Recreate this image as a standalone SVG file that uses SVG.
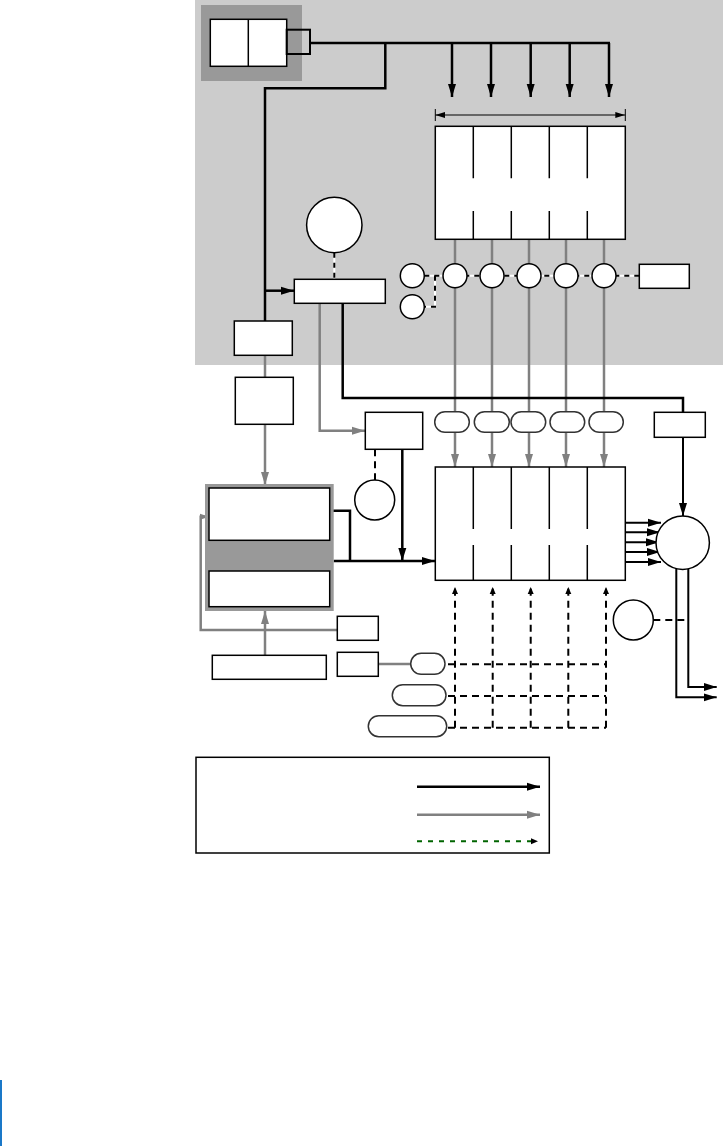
<svg xmlns="http://www.w3.org/2000/svg" width="723" height="1146" viewBox="0 0 723 1146">
<style>
.n{fill:#fff;stroke:#000;stroke-width:1.5}
.k{fill:none;stroke:#000;stroke-width:2.5}
.kt{fill:none;stroke:#000;stroke-width:2}
.g{fill:none;stroke:#808080;stroke-width:2.5}
.w{fill:none;stroke:#fff;stroke-width:2}
.d{fill:none;stroke:#000;stroke-width:2;stroke-dasharray:5,5}
.dg{fill:none;stroke:#000;stroke-width:2;stroke-dasharray:7,5}
.dv{stroke:#000;stroke-width:1.5}
.p{fill:#fff;stroke:#333;stroke-width:1.5}
</style>
<defs>
<marker id="ak" markerUnits="userSpaceOnUse" markerWidth="14" markerHeight="10" refX="13" refY="5" orient="auto"><path d="M0,1 L13,5 L0,9 z" fill="#000"/></marker>
<marker id="ag" markerUnits="userSpaceOnUse" markerWidth="14" markerHeight="10" refX="13" refY="5" orient="auto"><path d="M0,1 L13,5 L0,9 z" fill="#808080"/></marker>
<marker id="as" markerUnits="userSpaceOnUse" markerWidth="10" markerHeight="8" refX="10" refY="4" orient="auto-start-reverse"><path d="M0,1 L10,4 L0,7 z" fill="#000"/></marker>
<marker id="ad" markerUnits="userSpaceOnUse" markerWidth="8" markerHeight="8" refX="7" refY="4" orient="auto"><path d="M0,1 L7,4 L0,7 z" fill="#000"/></marker>
<marker id="ags" markerUnits="userSpaceOnUse" markerWidth="10" markerHeight="8" refX="9" refY="4" orient="auto"><path d="M0,1 L9,4 L0,7 z" fill="#808080"/></marker>
</defs>
<rect x="195" y="0" width="528" height="365" fill="#cccccc"/>
<rect x="0" y="1080" width="2" height="66" fill="#1a78c8"/>

<g id="connectors">
<path class="k" d="M310,43 H610"/>
<path class="k" d="M385.3,43 V88.3 H265 V321"/>
<path class="k" d="M265,290.7 H294" marker-end="url(#ak)"/>
<path class="k" d="M452,43 V97" marker-end="url(#ak)"/>
<path class="k" d="M491,43 V97" marker-end="url(#ak)"/>
<path class="k" d="M530.7,43 V97" marker-end="url(#ak)"/>
<path class="k" d="M569.7,43 V97" marker-end="url(#ak)"/>
<path class="k" d="M609,43 V97" marker-end="url(#ak)"/>
<path fill="none" stroke="#000" stroke-width="1" d="M435.3,115 H625.3" marker-start="url(#as)" marker-end="url(#as)"/>
<path fill="none" stroke="#000" stroke-width="1" d="M435.3,109 V121 M625.3,109 V121"/>
<path class="g" d="M455,239.3 V467" marker-end="url(#ag)"/>
<path class="g" d="M492,239.3 V467" marker-end="url(#ag)"/>
<path class="g" d="M529,239.3 V467" marker-end="url(#ag)"/>
<path class="g" d="M566,239.3 V467" marker-end="url(#ag)"/>
<path class="g" d="M604,239.3 V467" marker-end="url(#ag)"/>
<path class="w" d="M424.3,275.7 H639.3 M435,275.7 V306.7 H424.3"/>
<path class="d" d="M424.3,275.7 H639.3 M435,275.7 V306.7 H424.3"/>
<path class="w" d="M334.3,252.7 V279.3"/>
<path class="d" d="M334.3,252.7 V279.3"/>
<path class="g" d="M319.7,303.3 V430.7 H365" marker-end="url(#ag)"/>
<path class="k" d="M342.7,303.3 V398 H683 V412.3"/>
<path class="kt" d="M683,437.3 V516" marker-end="url(#ak)"/>
<path class="g" d="M265,355.3 V377.3"/>
<path class="g" d="M265,424.3 V485" marker-end="url(#ag)"/>
<path class="dg" d="M375,449.3 V480"/>
<path class="k" d="M402.3,449.3 V561" marker-end="url(#ak)"/>
<path class="k" d="M329.7,510.7 H350 V561"/>
<path class="k" d="M333.7,561 H435" marker-end="url(#ak)"/>
<path class="g" d="M337.3,630 H200.7 V516.7 H209" marker-end="url(#ags)"/>
<path class="g" d="M265,655.3 V611" marker-end="url(#ag)"/>
<path class="g" d="M378.3,664 H410.7"/>
<path class="kt" d="M625.3,522.7 H661" marker-end="url(#ak)"/>
<path class="kt" d="M625.3,532.3 H660" marker-end="url(#ak)"/>
<path class="kt" d="M625.3,542.3 H659" marker-end="url(#ak)"/>
<path class="kt" d="M625.3,552 H660" marker-end="url(#ak)"/>
<path class="kt" d="M625.3,562 H661" marker-end="url(#ak)"/>
<path class="kt" d="M676.3,568 V697.3 H716.7" marker-end="url(#ak)"/>
<path class="kt" d="M688.3,567 V687 H716.7" marker-end="url(#ak)"/>
<path class="dg" d="M653.3,620 H688.3"/>
<path class="dg" d="M455,727.7 V587" marker-end="url(#ad)"/>
<path class="dg" d="M492.7,727.7 V587" marker-end="url(#ad)"/>
<path class="dg" d="M530.7,727.7 V587" marker-end="url(#ad)"/>
<path class="dg" d="M568.3,727.7 V587" marker-end="url(#ad)"/>
<path class="dg" d="M606,727.7 V587" marker-end="url(#ad)"/>
<path class="dg" d="M448,664.3 H606 M448,696 H606 M448,727.7 H606"/>
</g>

<g id="source">
<rect x="201" y="5" width="101" height="76" fill="#999999"/>
<rect class="n" x="210.3" y="19.3" width="76.4" height="47"/>
<line class="dv" x1="248.3" y1="19.3" x2="248.3" y2="66.3"/>
<rect x="286.7" y="29.7" width="23.3" height="24.3" fill="none" stroke="#000" stroke-width="2"/>
</g>

<g id="top-block">
<rect class="n" x="435.3" y="126.3" width="190" height="113"/>
<path class="dv" d="M473.3,126.3 V178.3 M511.3,126.3 V178.3 M549.3,126.3 V178.3 M587.3,126.3 V178.3 M473.3,211 V239.3 M511.3,211 V239.3 M549.3,211 V239.3 M587.3,211 V239.3"/>
</g>

<g id="circle-row">
<circle class="n" cx="412.3" cy="275.7" r="12"/>
<circle class="n" cx="412.3" cy="306.7" r="12"/>
<circle class="n" cx="455" cy="275.7" r="12"/>
<circle class="n" cx="492" cy="275.7" r="12"/>
<circle class="n" cx="529" cy="275.7" r="12"/>
<circle class="n" cx="566" cy="275.7" r="12"/>
<circle class="n" cx="604" cy="275.7" r="12"/>
<rect class="n" x="639.3" y="264.3" width="50" height="24"/>
</g>

<g id="top-circle"><circle class="n" cx="334.3" cy="225" r="27.7"/></g>
<g id="bar"><rect class="n" x="294.3" y="279.3" width="91" height="24"/></g>
<g id="left-box-1"><rect class="n" x="234.3" y="321" width="58" height="34.3"/></g>
<g id="left-box-2"><rect class="n" x="235.3" y="377.3" width="58" height="47"/></g>
<g id="mid-box"><rect class="n" x="365.3" y="412.3" width="57.4" height="37"/></g>
<g id="mid-circle"><circle class="n" cx="374.7" cy="500" r="20"/></g>
<g id="right-box"><rect class="n" x="654.3" y="412.3" width="51" height="25"/></g>

<g id="left-block">
<rect x="205" y="484" width="128.7" height="127" fill="#999999"/>
<rect class="n" x="209" y="488" width="120.7" height="52.3"/>
<rect class="n" x="209" y="571" width="120.7" height="35.7"/>
</g>

<g id="small-boxes">
<rect class="n" x="337.3" y="616.3" width="41" height="24"/>
<rect class="n" x="337.3" y="652.3" width="41" height="24"/>
<rect class="n" x="212.3" y="655.3" width="114" height="24"/>
</g>

<g id="pills-bottom">
<rect class="p" x="410.7" y="653.3" width="34.3" height="21" rx="10.5"/>
<rect class="p" x="392.3" y="684.7" width="53.7" height="21" rx="10.5"/>
<rect class="p" x="368.3" y="715.7" width="78.4" height="21" rx="10.5"/>
</g>

<g id="pills-top">
<rect class="p" x="434.7" y="411.7" width="34.6" height="20.6" rx="10.3"/>
<rect class="p" x="474.3" y="411.7" width="35" height="20.6" rx="10.3"/>
<rect class="p" x="511" y="411.7" width="34.7" height="20.6" rx="10.3"/>
<rect class="p" x="550" y="411.7" width="34.7" height="20.6" rx="10.3"/>
<rect class="p" x="589" y="411.7" width="34.3" height="20.6" rx="10.3"/>
</g>

<g id="bottom-block">
<rect class="n" x="435.3" y="467" width="190" height="113.3"/>
<path class="dv" d="M473.3,467 V529 M511.3,467 V529 M549.3,467 V529 M587.3,467 V529 M473.3,545 V580.3 M511.3,545 V580.3 M549.3,545 V580.3 M587.3,545 V580.3"/>
</g>

<g id="right-circle"><circle class="n" cx="682.7" cy="542.7" r="26.7"/></g>
<g id="small-circle"><circle class="n" cx="633.3" cy="620" r="20"/></g>

<g id="legend">
<rect class="n" x="196" y="757.3" width="353.3" height="95.7"/>
<path class="k" d="M417,786.7 H540" marker-end="url(#ak)"/>
<path class="g" d="M417,814.7 H540" marker-end="url(#ag)"/>
<path fill="none" stroke="#006400" stroke-width="2" stroke-dasharray="5,6" d="M417,841.3 H534"/>
<path fill="none" stroke="none" d="M528,841.3 H538" marker-end="url(#ad)"/>
</g>
</svg>
